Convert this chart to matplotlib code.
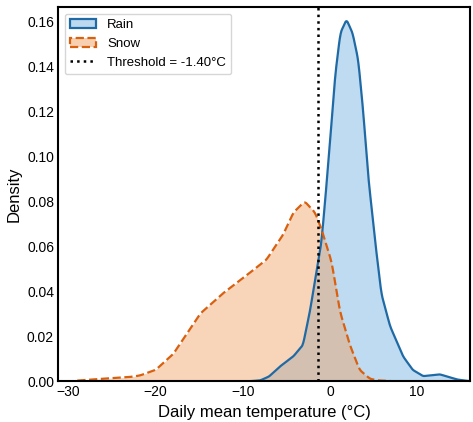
import numpy as np
import matplotlib
matplotlib.use("Agg")
import matplotlib.pyplot as plt
from matplotlib.patches import Patch
from matplotlib.lines import Line2D

plt.rcParams['font.family'] = ['Liberation Sans', 'DejaVu Sans']

rain_x = [-9, -8, -7, -5.7, -4.2, -3.1, -2.3, -1.7, -1.0, -0.6, 0.0, 0.6, 1.2, 1.9, 2.6, 3.25, 3.8, 4.4, 5.2, 5.9, 6.9, 8.4, 9.5, 10.7, 11.8, 12.6, 13.5, 14.6, 15.5, 16]
rain_y = [0, 0.0003, 0.002, 0.0066, 0.011, 0.016, 0.031, 0.045, 0.061, 0.078, 0.106, 0.136, 0.155, 0.161, 0.155, 0.143, 0.121, 0.091, 0.062, 0.039, 0.0245, 0.011, 0.005, 0.0022, 0.0026, 0.003, 0.002, 0.0007, 0.0002, 0]
snow_x = [-29, -27, -25, -23, -21.8, -20, -18.0, -16.1, -14.9, -12.3, -9.6, -7.3, -5.4, -4.2, -2.9, -1.7, -1.0, 0.2, 1.15, 2.3, 3.4, 4.6, 5.5, 7]
snow_y = [0.0002, 0.0008, 0.0013, 0.0018, 0.0025, 0.005, 0.012, 0.023, 0.030, 0.039, 0.047, 0.054, 0.065, 0.075, 0.080, 0.075, 0.068, 0.053, 0.031, 0.016, 0.005, 0.001, 0.0003, 0]
threshold = -1.40

def smooth(x, y, n=800):
    xs = np.linspace(min(x), max(x), n)
    ys = np.interp(xs, x, y)
    k = np.ones(11) / 11
    ys2 = np.convolve(np.pad(ys, 5, mode='edge'), k, mode='valid')
    return xs, ys2

fig, ax = plt.subplots(figsize=(4.73, 4.22), dpi=100)
blue = "#1f6aa5"
orange = "#d9600f"
rx, ry = smooth(rain_x, rain_y)
sx, sy = smooth(snow_x, snow_y)
ax.fill_between(rx, ry, color="#5da5dc", alpha=0.4, lw=0)
ax.plot(rx, ry, color=blue, lw=1.6)
ax.fill_between(sx, sy, color="#f0a065", alpha=0.45, lw=0)
ax.plot(sx, sy, color=orange, lw=1.6, ls="--")
ax.axvline(threshold, color="black", ls=":", lw=1.8)

handles = [Patch(facecolor="#bcd9ef", edgecolor=blue, lw=1.6, label="Rain"),
           Patch(facecolor="#f7d0b2", edgecolor=orange, lw=1.6, ls="--", label="Snow"),
           Line2D([], [], color="black", ls=":", lw=1.8, label="Threshold = -1.40°C")]
ax.legend(handles=handles, loc="upper left", fontsize=9.5, frameon=True, edgecolor="#cccccc")

ax.set_xlim(-31.2, 16.1)
ax.set_ylim(0, 0.1665)
ax.set_xticks([-30, -20, -10, 0, 10])
yt = np.arange(0, 0.161, 0.02)
ax.set_yticks(yt)
ax.set_yticklabels([f"{v:.2f}" for v in yt])
ax.set_xlabel("Daily mean temperature (°C)", fontsize=12)
ax.set_ylabel("Density", fontsize=12)
ax.tick_params(labelsize=10, length=0, pad=3)
for s in ax.spines.values():
    s.set_linewidth(1.5)
fig.subplots_adjust(left=0.123, right=0.994, top=0.983, bottom=0.097)
fig.savefig("out.png", dpi=100)
